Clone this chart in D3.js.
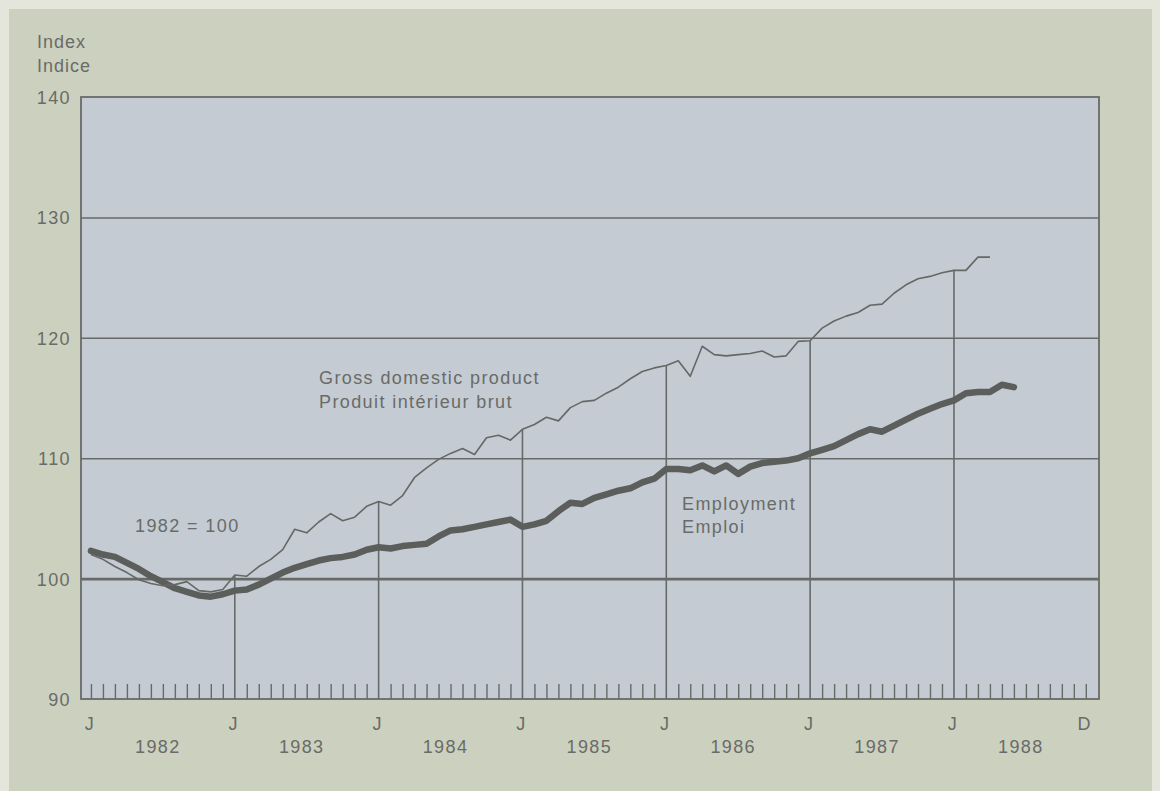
<!DOCTYPE html>
<html><head><meta charset="utf-8">
<script src="https://cdn.jsdelivr.net/npm/d3@7"></script>
<style>
html,body{margin:0;padding:0;background:#cdd2bf;}
svg{display:block;}
text{font-family:"Liberation Sans",Arial,Helvetica,sans-serif;fill:#696b68;font-size:18px;letter-spacing:1.4px;}
</style></head>
<body>
<svg id="c" width="1160" height="791"></svg>
<script>
// month index 0 = January 1982
const gdpValues = [102.0,101.6,101.0,100.5,99.9,99.6,99.4,99.5,99.75,99.0,98.9,99.1,
  100.3,100.2,101.0,101.6,102.4,104.1,103.8,104.7,105.4,104.8,105.1,106.0,
  106.4,106.1,106.9,108.4,109.2,109.9,110.4,110.8,110.3,111.7,111.9,111.5,
  112.4,112.8,113.4,113.1,114.2,114.7,114.8,115.4,115.9,116.6,117.2,117.5,
  117.7,118.1,116.8,119.3,118.6,118.5,118.6,118.7,118.9,118.4,118.5,119.7,
  119.75,120.8,121.4,121.8,122.1,122.7,122.8,123.7,124.4,124.9,125.1,125.4,
  125.6,125.6,126.7,126.7];
const employmentValues = [102.3,102.0,101.8,101.3,100.8,100.2,99.7,99.2,98.9,98.6,98.5,98.7,
  99.0,99.1,99.5,100.0,100.5,100.9,101.2,101.5,101.7,101.8,102.0,102.4,
  102.6,102.5,102.7,102.8,102.9,103.5,104.0,104.1,104.3,104.5,104.7,104.9,
  104.3,104.5,104.8,105.6,106.3,106.2,106.7,107.0,107.3,107.5,108.0,108.3,
  109.1,109.1,109.0,109.4,108.9,109.4,108.7,109.3,109.6,109.7,109.8,110.0,
  110.4,110.7,111.0,111.5,112.0,112.4,112.2,112.7,113.2,113.7,114.1,114.5,
  114.8,115.4,115.5,115.5,116.1,115.9];
const years = ["1982","1983","1984","1985","1986","1987","1988"];
const yTicks = [90,100,110,120,130,140];
const gridValues = [100,110,120,130];
const monthLabels = [{m:0,t:"J"},{m:12,t:"J"},{m:24,t:"J"},{m:36,t:"J"},{m:48,t:"J"},{m:60,t:"J"},{m:72,t:"J"},{m:83,t:"D"}];
const yearStarts = [12,24,36,48,60,72]; // January lines

const svg = d3.select("#c");
const L=81, R=1099, T=97, B=699;
const x = d3.scaleLinear().domain([-0.83,84.1]).range([L,R]);
const y = d3.scaleLinear().domain([90,140]).range([B,T]);
const ink = "#686a68";

// light scan border
svg.append("rect").attr("x",0).attr("y",0).attr("width",1160).attr("height",791).attr("fill","#e4e6dc");
svg.append("rect").attr("x",9).attr("y",9).attr("width",1143).attr("height",782).attr("fill","#ccd1bf");

// plot area
svg.append("rect").attr("x",L).attr("y",T).attr("width",R-L).attr("height",B-T).attr("fill","#c4cbd3");

// horizontal grid
const grid = svg.append("g").attr("transform",`translate(${L},0)`)
  .call(d3.axisLeft(y).tickValues(gridValues).tickSize(-(R-L)).tickFormat(""));
grid.select(".domain").remove();
grid.selectAll("line").attr("stroke",ink).attr("stroke-width",d=>d===100?2.6:1.5);

// month ticks (inward)
const months = d3.range(0,84).filter(m=>m%12!==0 || m===0);
const mt = svg.append("g").attr("transform",`translate(0,${B})`)
  .call(d3.axisBottom(x).tickValues(months).tickSize(-15).tickFormat(""));
mt.select(".domain").remove();
mt.selectAll("line").attr("stroke",ink).attr("stroke-width",1.4);

// January lines from bottom up to GDP
svg.append("g").selectAll("line").data(yearStarts).join("line")
  .attr("x1",d=>x(d)).attr("x2",d=>x(d))
  .attr("y1",B).attr("y2",d=>y(gdpValues[d]))
  .attr("stroke",ink).attr("stroke-width",1.6);

// frame
svg.append("rect").attr("x",L).attr("y",T).attr("width",R-L).attr("height",B-T)
  .attr("fill","none").attr("stroke",ink).attr("stroke-width",1.8);

// lines
const line = d3.line().x((d,i)=>x(i)).y(d=>y(d));
svg.append("path").datum(employmentValues).attr("d",line)
  .attr("fill","none").attr("stroke","#5c5e5c").attr("stroke-width",6.5)
  .attr("stroke-linejoin","round").attr("stroke-linecap","round");
svg.append("path").datum(gdpValues).attr("d",line)
  .attr("fill","none").attr("stroke","#666866").attr("stroke-width",1.6)
  .attr("stroke-linejoin","round");

// y labels
svg.append("g").selectAll("text").data(yTicks).join("text")
  .attr("x",71).attr("y",d=>y(d)+7).attr("text-anchor","end")
  .text(d=>d);

svg.append("text").attr("x",37).attr("y",48).style("letter-spacing","1px").text("Index");
svg.append("text").attr("x",37).attr("y",72).style("letter-spacing","1px").text("Indice");

// x labels
svg.append("g").selectAll("text").data(monthLabels).join("text")
  .attr("x",d=>x(d.m)-1).attr("y",730).attr("text-anchor","middle")
  .text(d=>d.t);
svg.append("g").selectAll("text").data(years).join("text")
  .attr("x",(d,i)=>x(i*12+5.5)+1).attr("y",753).attr("text-anchor","middle")
  .text(d=>d);

// annotations
svg.append("text").attr("x",319).attr("y",384).text("Gross domestic product");
svg.append("text").attr("x",319).attr("y",408).text("Produit intérieur brut");
svg.append("text").attr("x",682).attr("y",510).text("Employment");
svg.append("text").attr("x",682).attr("y",533).text("Emploi");
svg.append("text").attr("x",135).attr("y",532).text("1982 = 100");
</script>
</body></html>
